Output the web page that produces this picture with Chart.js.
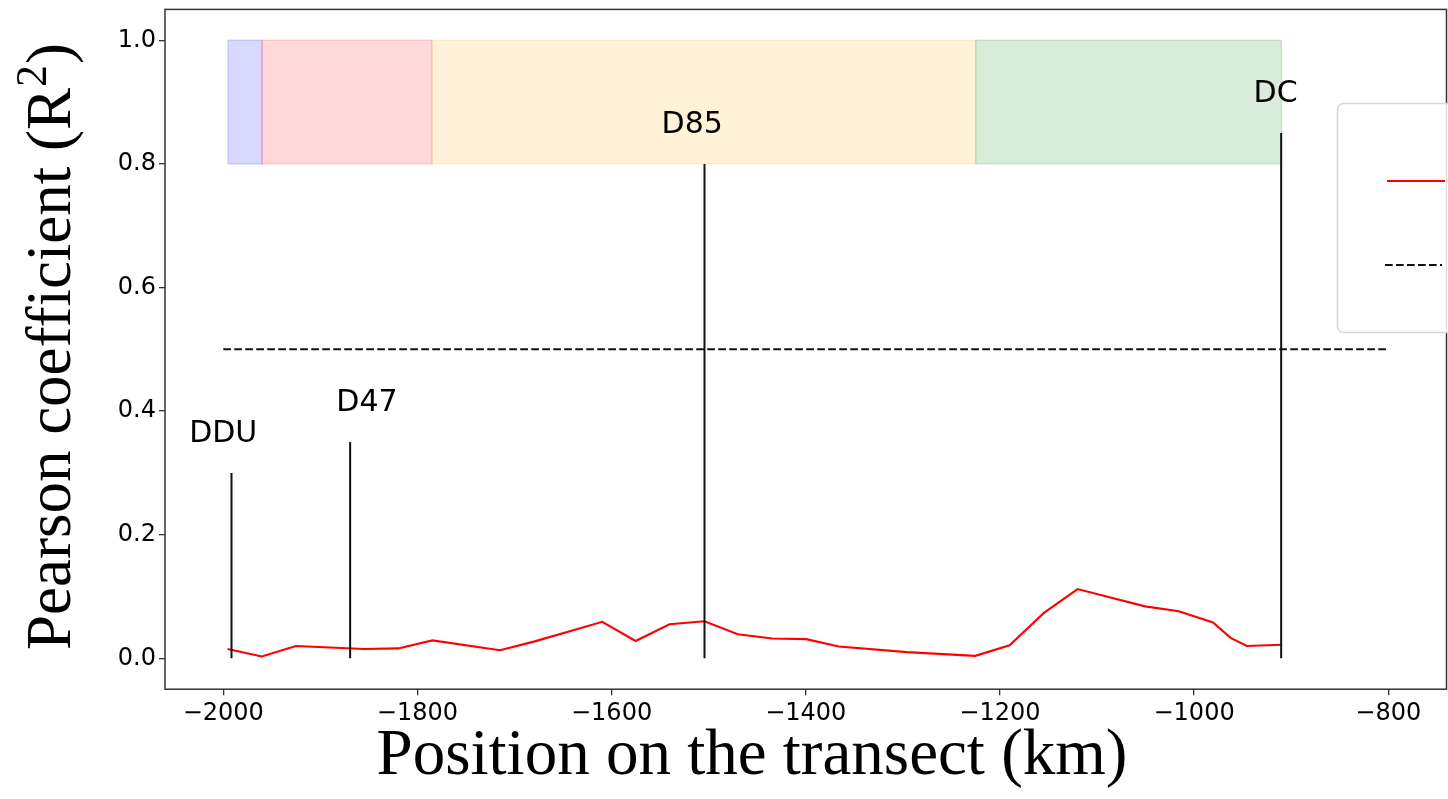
<!DOCTYPE html>
<html>
<head>
<meta charset="utf-8">
<script src="https://cdn.jsdelivr.net/npm/chart.js@4.4.0/dist/chart.umd.min.js"></script>
<style>
  html, body { margin: 0; padding: 0; background: #fff; overflow: hidden; }
  #wrap { width: 1448px; height: 799px; position: relative; }
</style>
</head>
<body>
<div id="wrap"><canvas id="c" width="1448" height="799"></canvas></div>
<script>
// Correlation along the transect (km, R^2)
const positionKm = [-1995.6, -1960.2, -1925.2, -1854.9, -1819.9, -1784.6, -1715.0, -1680.0,
  -1609.6, -1575.3, -1540.3, -1504.3, -1470.0, -1434.6, -1399.6, -1366.0, -1295.7, -1225.4,
  -1190.0, -1155.0, -1120.0, -1050.5, -1015.8, -980.5, -962.4, -945.6, -910.3];
const pearsonR2 = [0.015, 0.003, 0.020, 0.015, 0.016, 0.029, 0.013, 0.027,
  0.059, 0.028, 0.055, 0.060, 0.039, 0.032, 0.031, 0.019, 0.010, 0.004,
  0.021, 0.073, 0.112, 0.084, 0.076, 0.058, 0.033, 0.020, 0.022];

// Axis ticks
const xTickValues = [-2000, -1800, -1600, -1400, -1200, -1000, -800];
const yTickValues = [0.0, 0.2, 0.4, 0.6, 0.8, 1.0];

// Stations along the traverse
const stationNames = ['DDU', 'D47', 'D85', 'DC'];
const stationKm = [-1991.5, -1869.3, -1504.3, -910.3];
const stationMarkTop = [0.30, 0.35, 0.80, 0.85];
const stationLabelKm = [-2000, -1852, -1517, -916];

// Zones shown as bands at the top
const zoneBoundsKm = [-1995, -1960, -1785, -1225, -910];
const zoneRGB = ['0,0,255', '255,0,0', '255,165,0', '0,128,0'];
const zoneR2 = [0.8, 1.0];

// Significance threshold
const thresholdKm = [-2000, -800];
const thresholdR2 = 0.5;

const minus = v => (v < 0 ? '\u2212' + Math.abs(v) : String(v));

const datasets = [];
stationKm.forEach((km, i) => {
  datasets.push({
    label: stationNames[i],
    data: [{ x: km, y: 0 }, { x: km, y: stationMarkTop[i] }],
    borderColor: '#111', borderWidth: 2, pointRadius: 0, order: 0
  });
});
datasets.push({
  label: 'threshold',
  data: thresholdKm.map(x => ({ x, y: thresholdR2 })),
  borderColor: '#111', borderWidth: 2, borderDash: [7.7, 3.3], pointRadius: 0, order: 1
});
datasets.push({
  label: 'R2',
  data: positionKm.map((x, i) => ({ x, y: pearsonR2[i] })),
  borderColor: '#ff0000', borderWidth: 2.1, pointRadius: 0, tension: 0, order: 2
});

const zonesPlugin = {
  id: 'zones',
  beforeDatasetsDraw(chart) {
    const { ctx, scales: { x, y } } = chart;
    const yTop = y.getPixelForValue(zoneR2[1]);
    const yBot = y.getPixelForValue(zoneR2[0]);
    ctx.save();
    for (let i = 0; i < zoneRGB.length; i++) {
      const x0 = x.getPixelForValue(zoneBoundsKm[i]);
      const x1 = x.getPixelForValue(zoneBoundsKm[i + 1]);
      ctx.fillStyle = `rgba(${zoneRGB[i]},0.15)`;
      ctx.fillRect(x0, yTop, x1 - x0, yBot - yTop);
      ctx.strokeStyle = `rgba(${zoneRGB[i]},0.15)`;
      ctx.lineWidth = 1.5;
      ctx.strokeRect(x0, yTop, x1 - x0, yBot - yTop);
    }
    ctx.restore();
  }
};

const decorPlugin = {
  id: 'decor',
  afterDatasetsDraw(chart) {
    const { ctx, chartArea: a, scales: { x, y } } = chart;
    ctx.save();
    // frame
    ctx.strokeStyle = '#333';
    ctx.lineWidth = 1.5;
    ctx.strokeRect(a.left, a.top, a.right - a.left, a.bottom - a.top);

    // station labels
    ctx.fillStyle = '#000';
    ctx.font = '30px "DejaVu Sans"';
    ctx.textAlign = 'center';
    ctx.textBaseline = 'middle';
    stationNames.forEach((name, i) => {
      const px = x.getPixelForValue(stationLabelKm[i]);
      const py = y.getPixelForValue(stationMarkTop[i] + 0.063);
      ctx.fillText(name, px, py);
    });

    // legend box (extends past the right edge)
    ctx.beginPath();
    ctx.roundRect(1337.5, 103.5, 220, 229, 6);
    ctx.fillStyle = 'rgba(255,255,255,0.85)';
    ctx.fill();
    ctx.strokeStyle = '#d6d6d6';
    ctx.lineWidth = 1.5;
    ctx.stroke();
    ctx.beginPath();
    ctx.moveTo(1387, 181); ctx.lineTo(1445, 181);
    ctx.strokeStyle = '#ff0000'; ctx.lineWidth = 2.1; ctx.stroke();
    ctx.beginPath();
    ctx.setLineDash([7.7, 3.3]);
    ctx.moveTo(1385, 265); ctx.lineTo(1442, 265);
    ctx.strokeStyle = '#111'; ctx.lineWidth = 2; ctx.stroke();
    ctx.setLineDash([]);

    // axis titles
    ctx.fillStyle = '#000';
    ctx.font = '65px "Liberation Serif"';
    ctx.textAlign = 'center';
    ctx.textBaseline = 'alphabetic';
    ctx.fillText('Position on the transect (km)', 752, 774);

    ctx.translate(70, 346.5);
    ctx.rotate(-Math.PI / 2);
    ctx.textAlign = 'left';
    const big = '63px "Liberation Serif"';
    const small = '44px "Liberation Serif"';
    const partA = 'Pearson coefficient (R';
    const partS = '2';
    const partB = ')';
    ctx.font = big;
    const wa = ctx.measureText(partA).width;
    const wb = ctx.measureText(partB).width;
    ctx.font = small;
    const ws = ctx.measureText(partS).width;
    let sx = -(wa + ws + wb + 2) / 2;
    ctx.font = big;
    ctx.fillText(partA, sx, 0);
    sx += wa + 1;
    ctx.font = small;
    ctx.fillText(partS, sx, -24);
    sx += ws + 1;
    ctx.font = big;
    ctx.fillText(partB, sx, 0);
    ctx.restore();
  }
};

new Chart(document.getElementById('c'), {
  type: 'line',
  data: { datasets },
  plugins: [zonesPlugin, decorPlugin],
  options: {
    responsive: false,
    animation: false,
    devicePixelRatio: 1,
    layout: { padding: { top: 9.4, right: 1.5, left: 0, bottom: 0 } },
    plugins: { legend: { display: false }, tooltip: { enabled: false } },
    scales: {
      x: {
        type: 'linear', min: -2060, max: -740,
        afterBuildTicks: s => { s.ticks = xTickValues.map(v => ({ value: v })); },
        afterFit: s => { s.height = 109.8; s.paddingLeft = 0; s.paddingRight = 0; },
        grid: { drawOnChartArea: false, drawTicks: true, tickLength: 6, color: '#333', lineWidth: 1.3 },
        border: { display: false },
        ticks: {
          font: { family: 'DejaVu Sans', size: 24 }, color: '#000', padding: 4,
          maxRotation: 0, autoSkip: false, callback: v => minus(v)
        }
      },
      y: {
        type: 'linear', min: -0.05, max: 1.05,
        afterBuildTicks: s => { s.ticks = yTickValues.map(v => ({ value: v })); },
        afterFit: s => { s.width = 165; s.paddingTop = 0; s.paddingBottom = 0; },
        grid: { drawOnChartArea: false, drawTicks: true, tickLength: 6, color: '#333', lineWidth: 1.3 },
        border: { display: false },
        ticks: {
          font: { family: 'DejaVu Sans', size: 24 }, color: '#000', padding: 3,
          autoSkip: false, callback: v => Number(v).toFixed(1)
        }
      }
    }
  }
});
</script>
</body>
</html>
